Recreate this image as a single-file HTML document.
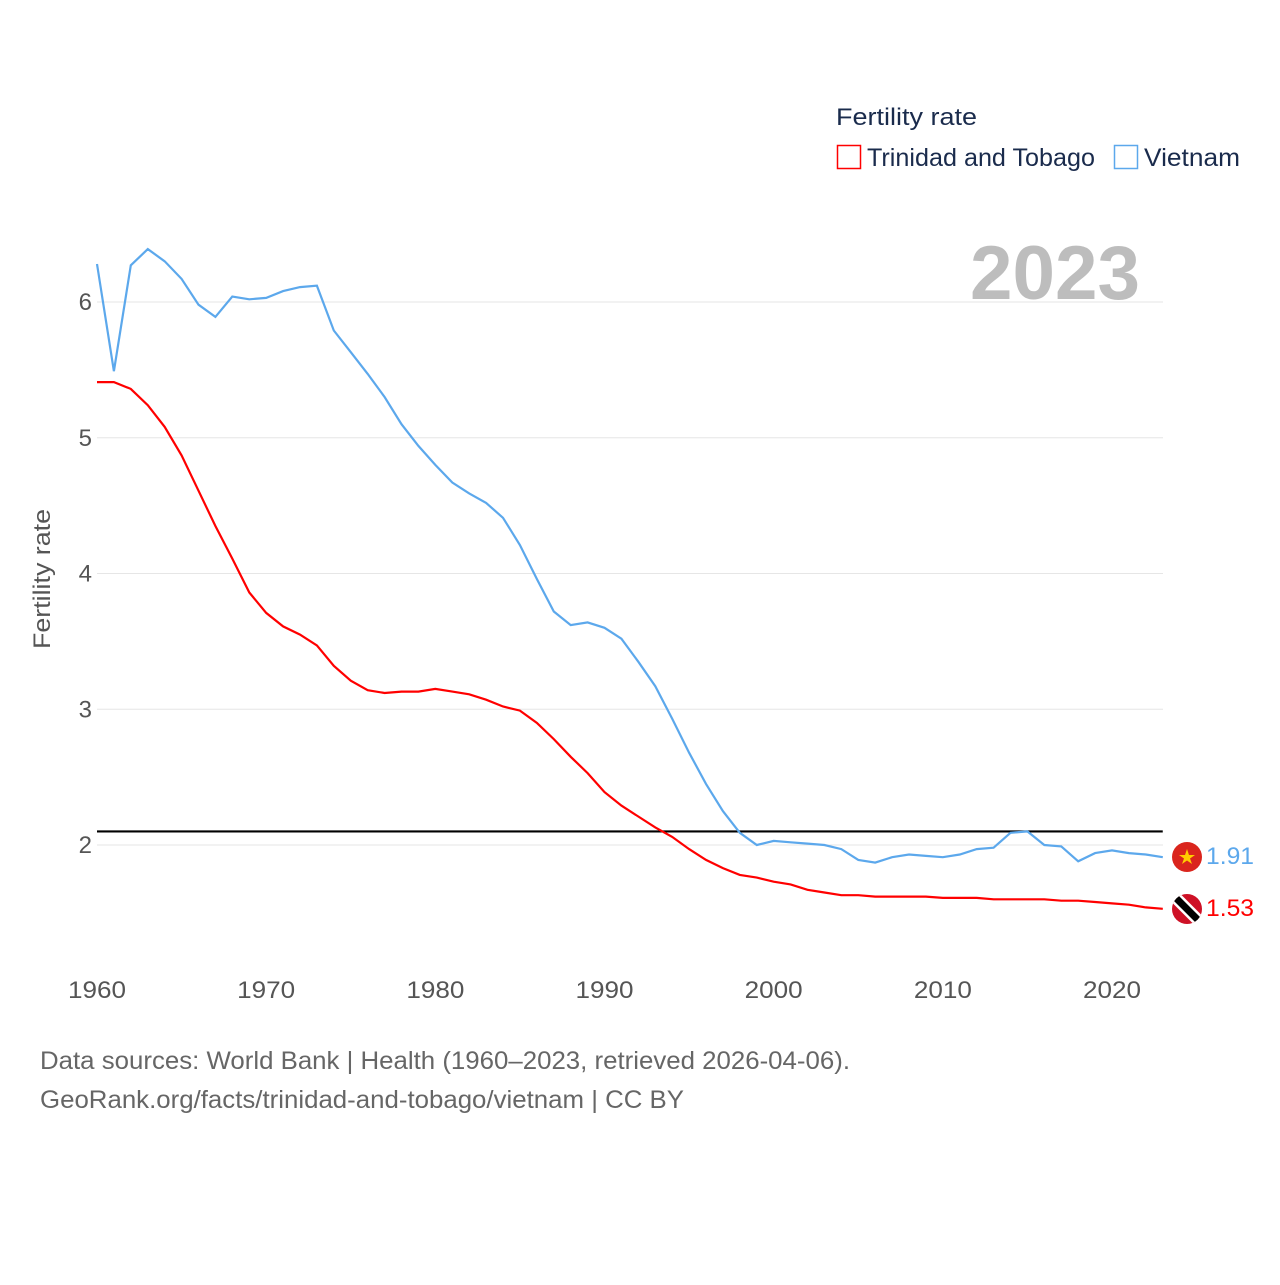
<!DOCTYPE html>
<html><head><meta charset="utf-8"><style>
body{margin:0;background:#fff;font-family:"Liberation Sans",sans-serif}
svg text{font-family:"Liberation Sans",sans-serif}
</style></head><body>
<svg id="chart" width="1280" height="1280" xmlns="http://www.w3.org/2000/svg">
<g id="grid"></g>
<g id="yticks"></g>
<g id="xticks"></g>
<text transform="translate(50,579) rotate(-90)" text-anchor="middle" font-size="24" fill="#555" textLength="140" lengthAdjust="spacingAndGlyphs">Fertility rate</text>
<text x="1140" y="299" text-anchor="end" font-size="76" font-weight="bold" fill="#bdbdbd" textLength="170" lengthAdjust="spacingAndGlyphs">2023</text>
<g>
<text x="836" y="125" font-size="24" fill="#1a2b4c" textLength="141" lengthAdjust="spacingAndGlyphs">Fertility rate</text>
<rect x="837.5" y="145.5" width="23" height="23" fill="none" stroke="#ff0000" stroke-width="1.5"/>
<text x="867" y="166" font-size="25" fill="#1a2b4c" textLength="228" lengthAdjust="spacingAndGlyphs">Trinidad and Tobago</text>
<rect x="1114.5" y="145.5" width="23" height="23" fill="none" stroke="#5ca8ec" stroke-width="1.5"/>
<text x="1144" y="166" font-size="25" fill="#1a2b4c" textLength="96" lengthAdjust="spacingAndGlyphs">Vietnam</text>
</g>
<g id="series"></g>
<g>
<circle cx="1187" cy="857" r="15" fill="#da251d"/>
<polygon points="1187,849 1189,855 1195,855 1190,858.5 1192,864 1187,860.5 1182,864 1184,858.5 1179,855 1185,855" fill="#ffcd00"/>
</g>
<g>
<clipPath id="ttc"><circle cx="1187" cy="909" r="15"/></clipPath>
<circle cx="1187" cy="909" r="15" fill="#ce1126"/>
<line x1="1172" y1="894" x2="1202" y2="924" stroke="#fff" stroke-width="12" clip-path="url(#ttc)"/>
<line x1="1172" y1="894" x2="1202" y2="924" stroke="#000" stroke-width="7" clip-path="url(#ttc)"/>
</g>
<text x="1206" y="864" font-size="24" fill="#5ca8ec" textLength="48" lengthAdjust="spacingAndGlyphs">1.91</text>
<text x="1206" y="916" font-size="24" fill="#ff0000" textLength="48" lengthAdjust="spacingAndGlyphs">1.53</text>
<text x="40" y="1069" font-size="25" fill="#666" textLength="810" lengthAdjust="spacingAndGlyphs">Data sources: World Bank | Health (1960–2023, retrieved 2026-04-06).</text>
<text x="40" y="1108" font-size="25" fill="#666" textLength="644" lengthAdjust="spacingAndGlyphs">GeoRank.org/facts/trinidad-and-tobago/vietnam | CC BY</text>
</svg>
<script>
const years=[];for(let y=1960;y<=2023;y++)years.push(y);
const vietnam=[6.28,5.49,6.27,6.39,6.30,6.17,5.98,5.89,6.04,6.02,6.03,6.08,6.11,6.12,5.79,5.63,5.47,5.30,5.10,4.94,4.80,4.67,4.59,4.52,4.41,4.21,3.96,3.72,3.62,3.64,3.60,3.52,3.35,3.17,2.93,2.68,2.45,2.25,2.09,2.00,2.03,2.02,2.01,2.00,1.97,1.89,1.87,1.91,1.93,1.92,1.91,1.93,1.97,1.98,2.09,2.10,2.00,1.99,1.88,1.94,1.96,1.94,1.93,1.91];
const trinidad=[5.41,5.41,5.36,5.24,5.08,4.87,4.61,4.35,4.11,3.86,3.71,3.61,3.55,3.47,3.32,3.21,3.14,3.12,3.13,3.13,3.15,3.13,3.11,3.07,3.02,2.99,2.90,2.78,2.65,2.53,2.39,2.29,2.21,2.13,2.06,1.97,1.89,1.83,1.78,1.76,1.73,1.71,1.67,1.65,1.63,1.63,1.62,1.62,1.62,1.62,1.61,1.61,1.61,1.60,1.60,1.60,1.60,1.59,1.59,1.58,1.57,1.56,1.54,1.53];
const yTicks=[2,3,4,5,6];
const xTicks=[1960,1970,1980,1990,2000,2010,2020];
const replacement=2.1;
const NS="http://www.w3.org/2000/svg";
const X=y=>97+(y-1960)*(1112-97)/60;
const Y=v=>845-(v-2)*135.75;
function mk(t,a,p){const e=document.createElementNS(NS,t);for(const k in a)e.setAttribute(k,a[k]);p.appendChild(e);return e;}
const grid=document.getElementById('grid'),yt=document.getElementById('yticks'),xt=document.getElementById('xticks'),se=document.getElementById('series');
yTicks.forEach(v=>{
 const l=mk('line',{x1:97,x2:1163,y1:Y(v),y2:Y(v),stroke:'#e6e6e6','stroke-width':1},grid);
 
 
 const t=mk('text',{x:92,y:Y(v)+8,'text-anchor':'end','font-size':24,fill:'#555'},yt);t.textContent=v;
 
 
});
xTicks.forEach(v=>{
 const t=mk('text',{x:X(v),y:998,'text-anchor':'middle','font-size':24,fill:'#555',textLength:58,lengthAdjust:'spacingAndGlyphs'},xt);t.textContent=v;
 
 
});
const ref=mk('line',{x1:X(1960),x2:X(2023),y1:Y(replacement),y2:Y(replacement),stroke:'#000','stroke-width':2.2},se);


function path(d){return d.map((v,i)=>(i?'L':'M')+X(years[i]).toFixed(1)+','+Y(v).toFixed(1)).join('');}
const pv=mk('path',{d:path(vietnam),fill:'none',stroke:'#5ca8ec','stroke-width':2.2},se);


const pt=mk('path',{d:path(trinidad),fill:'none',stroke:'#ff0000','stroke-width':2.2},se);


</script>
</body></html>
